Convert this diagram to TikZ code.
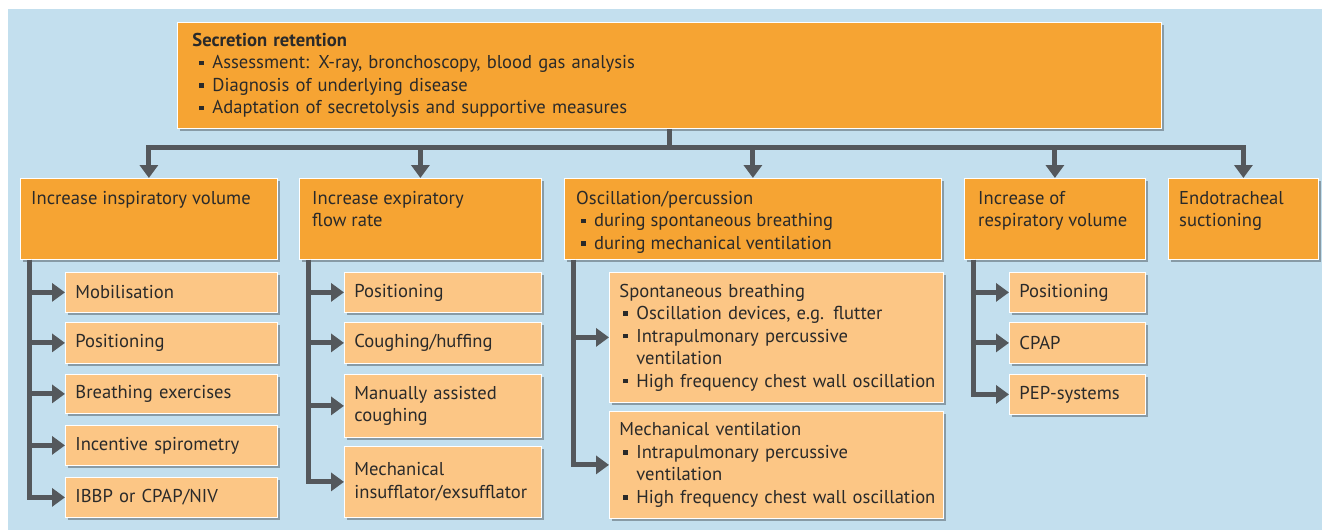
\documentclass[tikz,border=0pt]{standalone}
\usepackage{fontspec}
\setmainfont{PT Sans}
\usepackage{xcolor}
\usetikzlibrary{positioning,arrows.meta,shadows,calc}

\definecolor{bgblue}{HTML}{C3DFEE}
\definecolor{mainorange}{HTML}{F6A433}
\definecolor{lightorange}{HTML}{FCC685}
\definecolor{linegray}{HTML}{54585C}
\definecolor{txtgray}{HTML}{2A2A2A}

\newcommand{\sqbul}[1][7pt]{\hspace*{#1}\makebox[13pt][l]{\rule[0.2em]{4.5pt}{4.5pt}}}

\begin{document}
\begin{tikzpicture}[x=1pt,y=-1pt,
    every node/.style={font=\fontsize{18.6}{22.5}\selectfont, text=txtgray},
    boxbase/.style={draw=white, line width=0.8pt, anchor=north west, inner sep=0pt,
        drop shadow={shadow xshift=3pt, shadow yshift=-3pt, fill=black, opacity=0.3}},
    headbox/.style={boxbase, fill=mainorange},
    subbox/.style={boxbase, fill=lightorange, align=left, inner xsep=10pt},
    headtxt/.style={anchor=north west, inner sep=0pt, align=left},
    colI/.style={minimum width=212pt, text width=192pt},
    colE/.style={minimum width=197pt, text width=177pt},
    colO/.style={minimum width=334pt, text width=314pt},
    colR/.style={minimum width=136pt, text width=116pt},
    link/.style={draw=linegray, line width=5pt},
    arr/.style={link, -{Triangle[length=13pt,width=18pt]}}]

    \useasboundingbox (0,0) rectangle (1322,530);
    \fill[bgblue] (8,9) rectangle (1322,530);

    % Top box
    \node[headbox, minimum width=984pt, minimum height=106pt, text width=954pt,
        inner xsep=15pt, align=left] (retention) at (177,22)
        {\textbf{Secretion retention}\\
         \sqbul Assessment: X-ray, bronchoscopy, blood gas analysis\\
         \sqbul Diagnosis of underlying disease\\
         \sqbul Adaptation of secretolysis and supportive measures};

    % Second row
    \node[headbox, minimum width=257pt, minimum height=81pt] (inspir) at (20,178) {};
    \node[headtxt] (inspirT) at ([xshift=11pt,yshift=-13pt]inspir.north west) {Increase inspiratory volume};
    \node[headbox, minimum width=242pt, minimum height=81pt] (expir) at (299,178) {};
    \node[headtxt] (expirT) at ([xshift=13pt,yshift=-13pt]expir.north west) {Increase expiratory\\flow rate};
    \node[headbox, minimum width=377pt, minimum height=81pt] (oscil) at (564,178) {};
    \node[headtxt] (oscilT) at ([xshift=12pt,yshift=-13pt]oscil.north west)
        {Oscillation/percussion\\ \sqbul[5pt]during spontaneous breathing\\ \sqbul[5pt]during mechanical ventilation};
    \node[headbox, minimum width=181pt, minimum height=81pt] (resp) at (964,178) {};
    \node[headtxt] (respT) at ([xshift=14pt,yshift=-13pt]resp.north west) {Increase of\\respiratory volume};
    \node[headbox, minimum width=150pt, minimum height=81pt] (endo) at (1168,178) {};
    \node[headtxt] (endoT) at ([xshift=11pt,yshift=-13pt]endo.north west) {Endotracheal\\suctioning};

    % Inspiratory volume
    \node[subbox, colI, minimum height=40pt] (mobil) at (65,272) {Mobilisation};
    \node[subbox, colI, minimum height=41pt] (posI) at (65,322) {Positioning};
    \node[subbox, colI, minimum height=39pt] (breath) at (65,374) {Breathing exercises};
    \node[subbox, colI, minimum height=40pt] (incent) at (65,425) {Incentive spirometry};
    \node[subbox, colI, minimum height=40pt] (ibbp) at (65,477) {IBBP or CPAP/NIV};

    % Expiratory flow
    \node[subbox, colE, minimum height=40pt] (posE) at (344,272) {Positioning};
    \node[subbox, colE, minimum height=41pt] (cough) at (344,322) {Coughing/huffing};
    \node[subbox, colE, minimum height=63pt] (manual) at (344,374) {Manually assisted\\coughing};
    \node[subbox, colE, minimum height=71pt] (mechI) at (344,446) {Mechanical\\\mbox{insufflator/exsufflator}};

    % Oscillation
    \node[subbox, colO, minimum height=130pt] (spont) at (609,272)
        {Spontaneous breathing\\
         \sqbul[4pt]Oscillation devices, e.g. flutter\\
         \sqbul[4pt]Intrapulmonary percussive\\
         \hspace*{17pt}ventilation\\
         \sqbul[4pt]\mbox{High frequency chest wall oscillation}};
    \node[subbox, colO, minimum height=107pt] (mechV) at (609,411)
        {Mechanical ventilation\\
         \sqbul[4pt]Intrapulmonary percussive\\
         \hspace*{17pt}ventilation\\
         \sqbul[4pt]\mbox{High frequency chest wall oscillation}};

    % Respiratory volume
    \node[subbox, colR, minimum height=40pt] (posR) at (1009,272) {Positioning};
    \node[subbox, colR, minimum height=41pt] (cpap) at (1009,322) {CPAP};
    \node[subbox, colR, minimum height=40pt] (pep) at (1009,374) {PEP-systems};

    % Connectors
    \coordinate (bus) at ([yshift=-19pt]retention.south);
    \draw[link] (retention.south) -- (bus);
    \draw[link, line cap=rect] (bus -| inspir.north) -- (bus -| endo.north);
    \foreach \b in {inspir,expir,oscil,resp,endo}
        \draw[arr] (bus -| \b.north) -- (\b.north);

    \foreach \s in {mobil,posI,breath,incent,ibbp}
        \draw[arr] ([xshift=9.5pt]inspir.south west) |- (\s.west);
    \foreach \s in {posE,cough,manual,mechI}
        \draw[arr] ([xshift=9.5pt]expir.south west) |- (\s.west);
    \foreach \s in {spont,mechV}
        \draw[arr] ([xshift=9.5pt]oscil.south west) |- (\s.west);
    \foreach \s in {posR,cpap,pep}
        \draw[arr] ([xshift=9.5pt]resp.south west) |- (\s.west);
\end{tikzpicture}
\end{document}
